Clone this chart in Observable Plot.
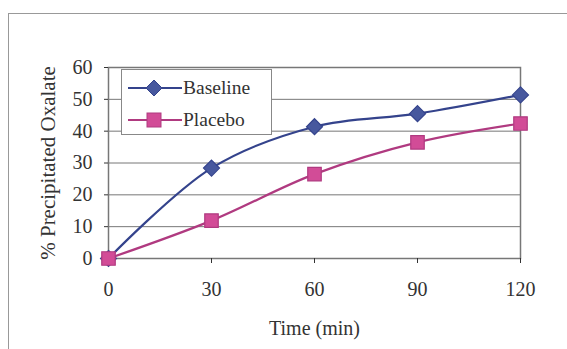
<!DOCTYPE html>
<html><head><meta charset="utf-8">
<script src="https://cdn.jsdelivr.net/npm/d3@7"></script>
<script src="https://cdn.jsdelivr.net/npm/@observablehq/plot@0.6"></script>
<style>
body{margin:0;background:#fff;}
#wrap{position:relative;width:567px;height:349px;overflow:hidden;font-family:"Liberation Serif","DejaVu Serif",serif;}
#border{position:absolute;left:8px;top:13px;width:600px;height:400px;border-left:1px solid #999;border-top:1px solid #999;}
#legend{position:absolute;left:121px;top:69px;width:151px;height:66px;border:1px solid #888;background:#fff;box-sizing:border-box;}
.li{position:absolute;left:0;height:20px;display:flex;align-items:center;font-size:19.5px;color:#333;}
.li svg{margin-left:6px;margin-right:1px;}
#chart svg text{font-size:20px;fill:#333;}
#chart svg g[aria-label="x-axis label"] text{font-size:20px;}
#chart svg g[aria-label="y-axis label"] text{font-size:21px;}
</style></head>
<body><div id="wrap"><div id="border"></div><div id="chart"></div><div id="legend"></div></div>
<script>
const times = [0, 30, 60, 90, 120];
const baseline = [0, 28.4, 41.4, 45.5, 51.4];
const placebo = [0, 11.9, 26.5, 36.5, 42.4];
const series = ["Baseline", "Placebo"];
const colors = {Baseline: "#34438c", Placebo: "#b03a80"};
const fills = {Baseline: "#47589e", Placebo: "#d24c97"};
const symbols = {Baseline: "diamond2", Placebo: "square"};
const yTicks = [0, 10, 20, 30, 40, 50, 60];

const data = [];
times.forEach((t, i) => {
  data.push({t, v: baseline[i], s: "Baseline"});
  data.push({t, v: placebo[i], s: "Placebo"});
});

const chart = Plot.plot({
  width: 567, height: 349,
  marginLeft: 108, marginRight: 47, marginTop: 67, marginBottom: 91,
  style: {fontFamily: "'Liberation Serif', serif", fontSize: "20px", color: "#333", background: "transparent"},
  x: {domain: [0, 120]},
  y: {domain: [0, 60]},
  marks: [
    Plot.gridY(yTicks, {stroke: "#777", strokeOpacity: 1, strokeWidth: 1}),
    Plot.frame({stroke: "#777", strokeWidth: 1.5}),
    Plot.axisX({ticks: times, tickSize: 5, tickPadding: 18, label: "Time (min)", labelAnchor: "center", labelOffset: 76, labelArrow: "none"}),
    Plot.axisY({ticks: yTicks, tickSize: 4, tickPadding: 12, label: "% Precipitated Oxalate", labelAnchor: "center", labelOffset: 68, labelArrow: "none"}),
    Plot.line(data, {x: "t", y: "v", z: "s", stroke: d => colors[d.s], curve: "catmull-rom", strokeWidth: 2.2}),
    ...series.map(s => Plot.dot(data.filter(d => d.s === s), {x: "t", y: "v", symbol: symbols[s], fill: fills[s], stroke: colors[s], strokeWidth: 1.2, r: s === "Baseline" ? 7.2 : 7.6}))
  ]
});
document.getElementById("chart").appendChild(chart);

const leg = document.getElementById("legend");
series.forEach((s, i) => {
  const div = document.createElement("div");
  div.className = "li";
  div.style.top = (8 + i * 32) + "px";
  const sym = s === "Baseline"
    ? `<polygon points="26,2 34,10 26,18 18,10" fill="${fills[s]}" stroke="${colors[s]}" stroke-width="1"/>`
    : `<rect x="19" y="3" width="14" height="14" fill="${fills[s]}" stroke="${colors[s]}" stroke-width="1"/>`;
  div.innerHTML = `<svg width="54" height="20"><line x1="0" y1="10" x2="54" y2="10" stroke="${colors[s]}" stroke-width="2"/>${sym}</svg><span>${s}</span>`;
  leg.appendChild(div);
});
</script></body></html>
